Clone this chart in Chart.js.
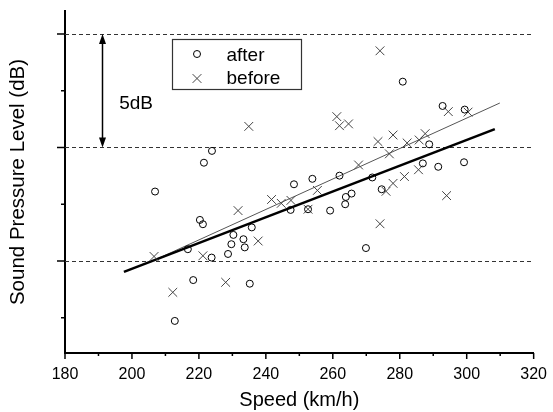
<!DOCTYPE html>
<html><head><meta charset="utf-8">
<script src="https://cdn.jsdelivr.net/npm/chart.js@4.4.1/dist/chart.umd.min.js"></script>
<style>html,body{margin:0;padding:0;background:#fff;}canvas{display:block;}</style>
</head><body>
<canvas id="c" width="553" height="412"></canvas>
<script>
// ---- data ----
const seriesNames = ['after', 'before'];
const afterSpeed = [206.9,212.8,216.7,218.3,220.3,221.2,221.5,223.9,223.8,228.7,229.7,230.3,233.3,233.7,235.2,235.8,247.4,248.4,252.6,253.9,259.2,262.0,263.7,263.9,265.6,269.9,271.8,274.6,280.9,286.9,288.8,291.5,292.8,299.2,299.4];
const afterLevel = [83.06,77.36,80.52,79.16,81.81,81.62,84.33,84.85,80.15,80.31,80.74,81.15,80.96,80.60,79.00,81.48,82.25,83.38,82.28,83.62,82.22,83.76,82.50,82.82,82.97,80.57,83.68,83.16,87.90,84.30,85.14,84.15,86.83,84.35,86.67];
const beforeSpeed = [206.6,212.2,221.2,228.0,231.7,234.9,237.7,241.7,244.6,247.5,252.6,255.4,261.2,262.0,264.7,267.7,273.5,274.1,274.1,275.9,276.9,278.0,278.0,281.4,282.2,285.6,285.8,287.6,294.0,294.5,300.4];
const beforeLevel = [80.20,78.62,80.23,79.06,82.22,85.93,80.88,82.71,82.54,82.67,82.28,83.11,86.36,85.96,86.04,84.23,85.26,89.26,81.64,83.07,84.72,85.55,83.42,83.72,85.20,84.02,85.33,85.61,82.88,86.58,86.56];
const afterFitSpeed = [197.6, 308.4];
const afterFitLevel = [79.52, 85.81];
const beforeFitSpeed = [206.6, 309.9];
const beforeFitLevel = [80.03, 86.96];
const xTickLabels = [180, 200, 220, 240, 260, 280, 300, 320];
const xMinorTicks = [190, 210, 230, 250, 270, 290, 310];
const yMajorTicks = [80, 85, 90];
const yMinorTicks = [77.5, 82.5, 87.5];
const xTitle = 'Speed (km/h)';
const yTitle = 'Sound Pressure Level (dB)';
const rangeLabel = '5dB';
const rangeLevels = [85, 90];
const arrowSpeed = 191.1;
const rangeLabelPos = [196.2, 86.92];

const FONT = '"Liberation Sans", Arial, Helvetica, sans-serif';
const pts = (xs, ys) => xs.map((v, i) => ({x: v, y: ys[i]}));

function seg(ctx, x1, y1, x2, y2) { ctx.beginPath(); ctx.moveTo(x1, y1); ctx.lineTo(x2, y2); ctx.stroke(); }

const decor = {
  id: 'decor',
  beforeDatasetsDraw(chart) {
    const {ctx, chartArea: a, scales: {x, y}} = chart;
    ctx.save();
    ctx.strokeStyle = '#333'; ctx.lineWidth = 1; ctx.setLineDash([4, 3]);
    yMajorTicks.forEach(v => { const py = Math.round(y.getPixelForValue(v)) + 0.5; seg(ctx, a.left, py, a.right, py); });
    ctx.setLineDash([]);
    ctx.strokeStyle = '#000'; ctx.lineWidth = 1.5;
    yMajorTicks.forEach(v => { const py = y.getPixelForValue(v); seg(ctx, a.left - 8, py, a.left, py); });
    yMinorTicks.forEach(v => { const py = y.getPixelForValue(v); seg(ctx, a.left - 4, py, a.left, py); });
    xTickLabels.forEach(v => { const px = x.getPixelForValue(v); seg(ctx, px, a.bottom, px, a.bottom + 6); });
    xMinorTicks.forEach(v => { const px = x.getPixelForValue(v); seg(ctx, px, a.bottom, px, a.bottom + 3); });
    // arrow
    const ax = Math.round(x.getPixelForValue(arrowSpeed)) + 0.5;
    const yt = y.getPixelForValue(rangeLevels[1]);
    const yb = y.getPixelForValue(rangeLevels[0]);
    ctx.lineWidth = 1.5;
    seg(ctx, ax, yt + 8, ax, yb - 8);
    ctx.fillStyle = '#000';
    ctx.beginPath(); ctx.moveTo(ax, yt); ctx.lineTo(ax - 3.5, yt + 10); ctx.lineTo(ax + 3.5, yt + 10); ctx.closePath(); ctx.fill();
    ctx.beginPath(); ctx.moveTo(ax, yb); ctx.lineTo(ax - 3.5, yb - 10); ctx.lineTo(ax + 3.5, yb - 10); ctx.closePath(); ctx.fill();
    ctx.font = '19px ' + FONT; ctx.textBaseline = 'middle'; ctx.textAlign = 'left';
    ctx.fillText(rangeLabel, x.getPixelForValue(rangeLabelPos[0]), y.getPixelForValue(rangeLabelPos[1]));
    ctx.restore();
  },
  afterDatasetsDraw(chart) {
    const {ctx, chartArea: a} = chart;
    ctx.save();
    const bx = a.left + 107.5, by = a.top + 28.5, bw = 129, bh = 50;
    ctx.fillStyle = '#fff'; ctx.fillRect(bx, by, bw, bh);
    ctx.strokeStyle = '#333'; ctx.lineWidth = 1.2; ctx.strokeRect(bx, by, bw, bh);
    ctx.lineWidth = 1; ctx.strokeStyle = '#000';
    ctx.beginPath(); ctx.arc(bx + 24.5, by + 14.5, 3.5, 0, Math.PI * 2); ctx.stroke();
    ctx.strokeStyle = '#444';
    const cx = bx + 24.5, cy = by + 39, r = 4.4;
    seg(ctx, cx - r, cy - r, cx + r, cy + r); seg(ctx, cx - r, cy + r, cx + r, cy - r);
    ctx.fillStyle = '#000'; ctx.font = '19px ' + FONT; ctx.textBaseline = 'alphabetic'; ctx.textAlign = 'left';
    ctx.fillText(seriesNames[0], bx + 54, by + 21);
    ctx.fillText(seriesNames[1], bx + 54, by + 44.5);
    ctx.restore();
  }
};

new Chart(document.getElementById('c'), {
  type: 'scatter',
  data: {
    datasets: [
      {label: 'afterFit', data: pts(afterFitSpeed, afterFitLevel), showLine: true, borderColor: '#000', borderWidth: 2.6, pointRadius: 0, order: 3},
      {label: 'beforeFit', data: pts(beforeFitSpeed, beforeFitLevel), showLine: true, borderColor: '#555', borderWidth: 1, pointRadius: 0, order: 4},
      {label: seriesNames[0], data: pts(afterSpeed, afterLevel), pointStyle: 'circle', pointRadius: 3.5, pointBorderWidth: 1, borderColor: '#000', backgroundColor: 'rgba(0,0,0,0)', order: 1},
      {label: seriesNames[1], data: pts(beforeSpeed, beforeLevel), pointStyle: 'crossRot', pointRadius: 6.2, pointBorderWidth: 1, borderColor: '#444', backgroundColor: '#444', order: 2}
    ]
  },
  options: {
    responsive: false, animation: false, devicePixelRatio: 1,
    layout: {padding: {top: 11, right: 13, left: 0, bottom: 0}},
    plugins: {legend: {display: false}, tooltip: {enabled: false}},
    scales: {
      x: {
        type: 'linear', min: 180, max: 320,
        afterFit: s => { s.height = 59; },
        afterBuildTicks: s => { s.ticks = xTickLabels.map(v => ({value: v})); },
        ticks: {padding: 6, color: '#000', font: {family: FONT, size: 16}, maxRotation: 0},
        grid: {display: true, drawOnChartArea: false, drawTicks: true, tickLength: 6, tickColor: 'rgba(0,0,0,0)'},
        border: {display: true, color: '#000', width: 2},
        title: {display: true, text: xTitle, color: '#000', font: {family: FONT, size: 20}, padding: {top: 0, bottom: 0}}
      },
      y: {
        type: 'linear', min: 75.947, max: 91.013,
        afterFit: s => { s.width = 65; },
        ticks: {display: false},
        grid: {display: false},
        border: {display: true, color: '#000', width: 2},
        title: {display: true, text: yTitle, color: '#000', font: {family: FONT, size: 20.5}, padding: {top: 6, bottom: 0}}
      }
    }
  },
  plugins: [decor]
});
</script>
</body></html>
